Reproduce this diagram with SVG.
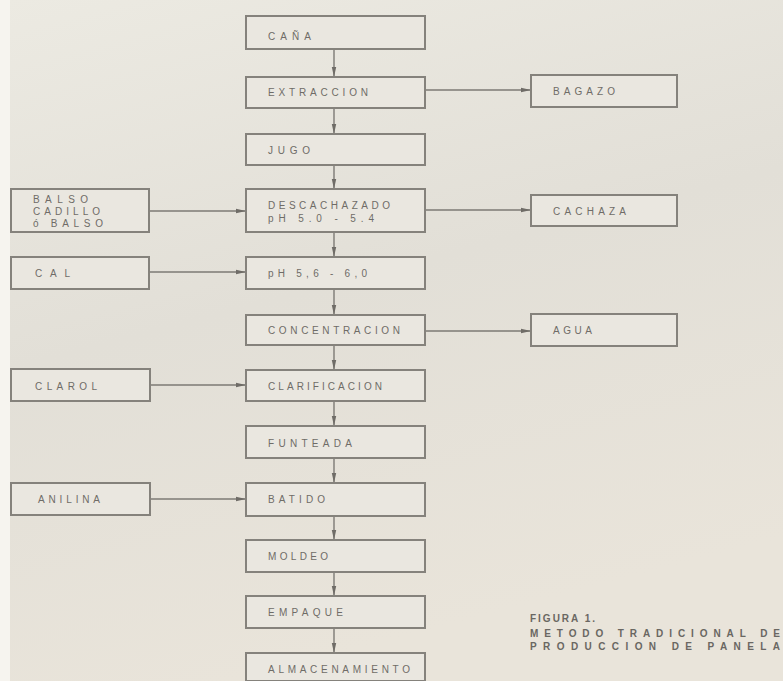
<svg xmlns="http://www.w3.org/2000/svg" width="783" height="681" viewBox="0 0 783 681">
<defs>
<linearGradient id="bg" x1="0" y1="0" x2="0.3" y2="1">
<stop offset="0" stop-color="#eceae2"/>
<stop offset="0.5" stop-color="#e2dfd7"/>
<stop offset="1" stop-color="#e9e4da"/>
</linearGradient>
<marker id="ah" viewBox="0 0 10 6" refX="10" refY="3" markerWidth="10" markerHeight="6" markerUnits="userSpaceOnUse" orient="auto">
<path d="M0,0.8 L10,3 L0,5.2 Z" fill="#6f6c67"/>
</marker>
<style>
.box{fill:#eae7e0;stroke:#85827c;stroke-width:2}
.t{font-family:"Liberation Sans",Arial,sans-serif;font-size:10px;fill:#6f6c67}
.c{font-family:"Liberation Sans",Arial,sans-serif;font-size:10px;font-weight:bold;fill:#6a6762}
.ln{fill:none;stroke:#7d7a75;stroke-width:1.4;marker-end:url(#ah)}
</style>
</defs>
<rect width="783" height="681" fill="url(#bg)"/>
<rect x="0" y="0" width="10" height="681" fill="#f6f4ef"/>

<g id="connectors">
<line class="ln" x1="334" y1="49" x2="334" y2="77"/>
<line class="ln" x1="334" y1="108" x2="334" y2="134"/>
<line class="ln" x1="334" y1="165" x2="334" y2="189"/>
<line class="ln" x1="334" y1="232" x2="334" y2="257"/>
<line class="ln" x1="334" y1="289" x2="334" y2="315"/>
<line class="ln" x1="334" y1="345" x2="334" y2="370"/>
<line class="ln" x1="334" y1="401" x2="334" y2="426"/>
<line class="ln" x1="334" y1="458" x2="334" y2="483"/>
<line class="ln" x1="334" y1="516" x2="334" y2="540"/>
<line class="ln" x1="334" y1="572" x2="334" y2="596"/>
<line class="ln" x1="334" y1="628" x2="334" y2="653"/>
<line class="ln" x1="425" y1="90" x2="531" y2="90"/>
<line class="ln" x1="425" y1="210" x2="531" y2="210"/>
<line class="ln" x1="425" y1="331" x2="531" y2="331"/>
<line class="ln" x1="150" y1="211" x2="246" y2="211"/>
<line class="ln" x1="150" y1="272" x2="246" y2="272"/>
<line class="ln" x1="150" y1="385" x2="246" y2="385"/>
<line class="ln" x1="150" y1="499" x2="246" y2="499"/>
</g>

<g id="cana"><rect class="box" x="246" y="16" width="179" height="33"/><text class="t" x="268" y="40" textLength="43" lengthAdjust="spacing">CAÑA</text></g>
<g id="extraccion"><rect class="box" x="246" y="77" width="179" height="31"/><text class="t" x="268" y="96" textLength="100" lengthAdjust="spacing">EXTRACCION</text></g>
<g id="jugo"><rect class="box" x="246" y="134" width="179" height="31"/><text class="t" x="268" y="154" textLength="42" lengthAdjust="spacing">JUGO</text></g>
<g id="descachazado"><rect class="box" x="246" y="189" width="179" height="43"/><text class="t" x="268" y="209" textLength="122" lengthAdjust="spacing">DESCACHAZADO</text><text class="t" x="268" y="222" textLength="106" lengthAdjust="spacing">pH  5.0 - 5.4</text></g>
<g id="ph"><rect class="box" x="246" y="257" width="179" height="32"/><text class="t" x="268" y="277" textLength="99" lengthAdjust="spacing">pH 5,6 - 6,0</text></g>
<g id="concentracion"><rect class="box" x="246" y="315" width="179" height="30"/><text class="t" x="268" y="334" textLength="132" lengthAdjust="spacing">CONCENTRACION</text></g>
<g id="clarificacion"><rect class="box" x="246" y="370" width="179" height="31"/><text class="t" x="268" y="390" textLength="114" lengthAdjust="spacing">CLARIFICACION</text></g>
<g id="funteada"><rect class="box" x="246" y="426" width="179" height="32"/><text class="t" x="268" y="447" textLength="84" lengthAdjust="spacing">FUNTEADA</text></g>
<g id="batido"><rect class="box" x="246" y="483" width="179" height="33"/><text class="t" x="268" y="503" textLength="57" lengthAdjust="spacing">BATIDO</text></g>
<g id="moldeo"><rect class="box" x="246" y="540" width="179" height="32"/><text class="t" x="268" y="560" textLength="60" lengthAdjust="spacing">MOLDEO</text></g>
<g id="empaque"><rect class="box" x="246" y="596" width="179" height="32"/><text class="t" x="268" y="616" textLength="75" lengthAdjust="spacing">EMPAQUE</text></g>
<g id="almacenamiento"><rect class="box" x="246" y="653" width="179" height="28"/><text class="t" x="268" y="673" textLength="142" lengthAdjust="spacing">ALMACENAMIENTO</text></g>

<g id="bagazo"><rect class="box" x="531" y="75" width="146" height="32"/><text class="t" x="553" y="95" textLength="62" lengthAdjust="spacing">BAGAZO</text></g>
<g id="cachaza"><rect class="box" x="531" y="195" width="146" height="31"/><text class="t" x="553" y="215" textLength="73" lengthAdjust="spacing">CACHAZA</text></g>
<g id="agua"><rect class="box" x="531" y="314" width="146" height="32"/><text class="t" x="553" y="334" textLength="39" lengthAdjust="spacing">AGUA</text></g>

<g id="balso"><rect class="box" x="11" y="189" width="138" height="43"/><text class="t" x="33" y="203" textLength="55" lengthAdjust="spacing">BALSO</text><text class="t" x="33" y="215" textLength="67" lengthAdjust="spacing">CADILLO</text><text class="t" x="33" y="227" textLength="70" lengthAdjust="spacing">ó BALSO</text></g>
<g id="cal"><rect class="box" x="11" y="257" width="138" height="32"/><text class="t" x="35" y="277" textLength="35" lengthAdjust="spacing">CAL</text></g>
<g id="clarol"><rect class="box" x="11" y="369" width="139" height="32"/><text class="t" x="35" y="390" textLength="62" lengthAdjust="spacing">CLAROL</text></g>
<g id="anilina"><rect class="box" x="11" y="483" width="139" height="32"/><text class="t" x="38" y="503" textLength="62" lengthAdjust="spacing">ANILINA</text></g>

<g id="caption">
<text class="c" x="530" y="622" textLength="65" lengthAdjust="spacing">FIGURA 1.</text>
<text class="c" x="530" y="637" textLength="250" lengthAdjust="spacing">METODO  TRADICIONAL  DE</text>
<text class="c" x="530" y="650" textLength="250" lengthAdjust="spacing">PRODUCCION  DE  PANELA</text>
</g>
</svg>
